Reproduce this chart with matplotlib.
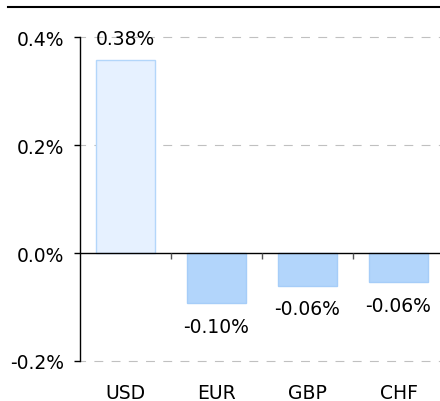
import matplotlib
matplotlib.use("Agg")
import matplotlib.pyplot as plt
from matplotlib.lines import Line2D
from matplotlib import markers

categories = ["USD", "EUR", "GBP", "CHF"]
values = [0.358, -0.093, -0.061, -0.054]
value_labels = ["0.38%", "-0.10%", "-0.06%", "-0.06%"]
y_ticks = [-0.2, 0.0, 0.2, 0.4]
y_tick_labels = ["-0.2%", "0.0%", "0.2%", "0.4%"]

plt.rcParams['font.family'] = ['DejaVu Sans']

W, H = 440, 402
fig = plt.figure(figsize=(W / 100, H / 100), dpi=100)
ax = fig.add_axes([80 / W, (H - 362) / H, 364 / W, 324 / H])

face = ["#e6f1ff"] + ["#b2d5fb"] * 3
edge = ["#b3d6fa"] + ["#a6cdf8"] * 3
ax.bar(range(len(categories)), values, width=0.64, color=face, edgecolor=edge, linewidth=1, zorder=3)

ax.set_xlim(-0.5, 3.5)
ax.set_ylim(-0.2, 0.4)

for y in [0.4, 0.2, -0.2]:
    ax.axhline(y, color="#c0c0c0", lw=0.8, ls=(3, (8, 7.5)), zorder=1, clip_on=False)
ax.axhline(0, color="black", lw=1, zorder=4)
ax.plot([0.5, 1.5, 2.5], [0, 0, 0], ls="", marker=markers.TICKDOWN, ms=4.5, mew=1, color="#555555", zorder=4)

for sp in ["top", "right", "bottom"]:
    ax.spines[sp].set_visible(False)
ax.spines["left"].set_linewidth(1)
ax.spines["left"].set_zorder(5)

ax.set_yticks(y_ticks, y_tick_labels)
ax.tick_params(axis="y", length=4.5, width=1, pad=7, labelsize=13.5, colors="black")
ax.set_xticks(range(len(categories)), categories)
ax.tick_params(axis="x", length=0, pad=16, labelsize=13.5)

for i, (v, lab) in enumerate(zip(values, value_labels)):
    off = 21 if v > 0 else -23
    ax.annotate(lab, (i, v), xytext=(0, off), textcoords="offset pixels",
                ha="center", va="center", fontsize=13.5, zorder=5)

fig.add_artist(Line2D([8 / W, 1], [(H - 8) / H] * 2, transform=fig.transFigure, color="black", lw=1.5))

fig.savefig("out.png", dpi=100)
